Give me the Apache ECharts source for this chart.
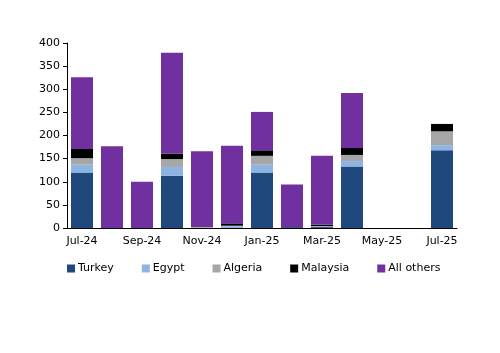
<!DOCTYPE html>
<html>
<head>
<meta charset="utf-8">
<script src="https://cdn.jsdelivr.net/npm/echarts@6/dist/echarts.min.js"></script>
<style>
  html, body { margin: 0; padding: 0; background: #fff; }
  #main { width: 500px; height: 353px; }
</style>
</head>
<body>
<div id="main"></div>
<script>
// months on the x axis
var months = ['Jul-24', 'Aug-24', 'Sep-24', 'Oct-24', 'Nov-24', 'Dec-24', 'Jan-25',
              'Feb-25', 'Mar-25', 'Apr-25', 'May-25', 'Jun-25', 'Jul-25'];

// stacked values
var turkey    = [120, 0, 0, 113, 0, 0, 120, 2, 2, 133, 0, 0, 168];
var egypt     = [17, 0, 0, 19, 0, 4, 17, 0, 1, 12, 0, 0, 11];
var algeria   = [14, 0, 0, 17, 2, 1, 19, 0, 1, 13, 0, 0, 30];
var malaysia  = [20, 0, 0, 12, 0, 5, 12, 0, 3, 15, 0, 0, 16];
var allOthers = [155, 177, 100, 218, 164, 168, 83, 92, 149, 119, 0, 0, 0];

var yTicks = [0, 50, 100, 150, 200, 250, 300, 350, 400];

var font = 'DejaVu Sans';

function bar(name, data, color) {
    return {
        name: name,
        type: 'bar',
        stack: 'total',
        data: data,
        barWidth: 22,
        itemStyle: {color: color},
        emphasis: {disabled: true}
    };
}

var chart = echarts.init(document.getElementById('main'));
chart.setOption({
    animation: false,
    grid: {left: 67, right: 43, top: 43, bottom: 125, containLabel: false},
    legend: {
        left: 62,
        top: 258,
        itemWidth: 8,
        itemHeight: 8,
        itemGap: 28,
        icon: 'rect',
        textStyle: {fontFamily: font, fontSize: 11, color: '#000', padding: [0, 0, 0, -2]},
        data: ['Turkey', 'Egypt', 'Algeria', 'Malaysia', 'All others']
    },
    xAxis: {
        type: 'category',
        data: months,
        axisLine: {lineStyle: {color: '#000', width: 1}},
        axisTick: {interval: 1, length: 4, lineStyle: {color: '#000'}},
        axisLabel: {interval: 1, fontFamily: font, fontSize: 11, color: '#000', margin: 8}
    },
    yAxis: {
        type: 'value',
        min: yTicks[0],
        max: yTicks[yTicks.length - 1],
        interval: 50,
        splitLine: {show: false},
        axisLine: {show: true, lineStyle: {color: '#000', width: 1}},
        axisTick: {show: true, length: 4, lineStyle: {color: '#000'}},
        axisLabel: {fontFamily: font, fontSize: 11, color: '#000', margin: 7}
    },
    series: [
        bar('Turkey', turkey, '#1f497d'),
        bar('Egypt', egypt, '#8db4e2'),
        bar('Algeria', algeria, '#a6a6a6'),
        bar('Malaysia', malaysia, '#000000'),
        bar('All others', allOthers, '#7030a0')
    ]
});
</script>
</body>
</html>
